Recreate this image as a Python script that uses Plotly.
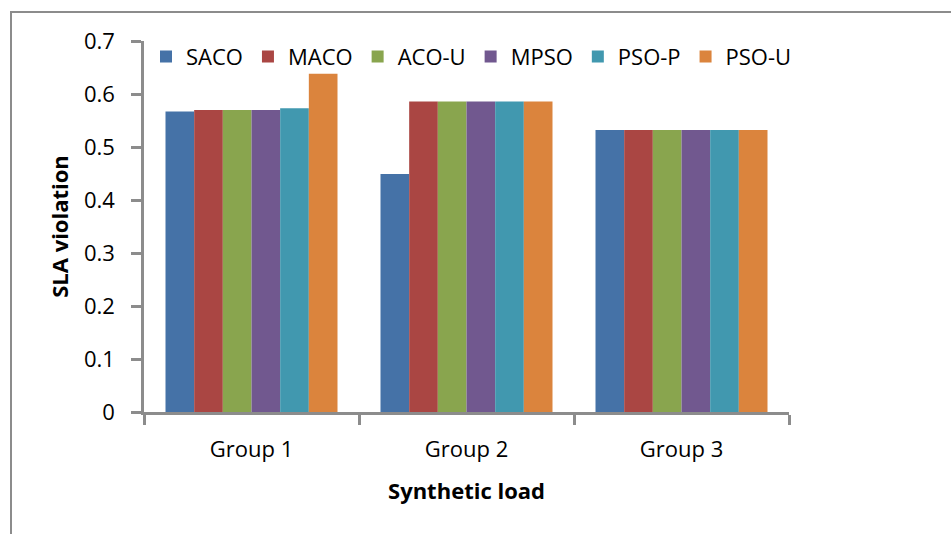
import plotly.graph_objects as go

categories = ["Group 1", "Group 2", "Group 3"]
series_names = ["SACO", "MACO", "ACO-U", "MPSO", "PSO-P", "PSO-U"]
saco = [0.567, 0.449, 0.532]
maco = [0.570, 0.586, 0.532]
aco_u = [0.570, 0.586, 0.532]
mpso = [0.570, 0.586, 0.532]
pso_p = [0.573, 0.586, 0.532]
pso_u = [0.638, 0.586, 0.532]
colors = ["#4572A7", "#AA4643", "#89A54E", "#71588F", "#4198AF", "#DB843D"]
y_ticks = [0, 0.1, 0.2, 0.3, 0.4, 0.5, 0.6, 0.7]
y_tick_labels = ["0", "0.1", "0.2", "0.3", "0.4", "0.5", "0.6", "0.7"]

all_values = [saco, maco, aco_u, mpso, pso_p, pso_u]

FONT = "Open Sans"
fig = go.Figure()
for name, vals, col in zip(series_names, all_values, colors):
    fig.add_trace(go.Bar(name=name, x=categories, y=vals, marker=dict(color=col, line=dict(width=0))))

L, R, T, B = 144, 20, 41, 122
W, H = 951, 534
pw, ph = W - L - R, H - T - B
plot_right = 789
dom_end = (plot_right - L) / pw

fig.update_layout(
    width=W, height=H,
    margin=dict(l=L, r=R, t=T, b=B, pad=0),
    barmode="group", bargap=0.2, bargroupgap=0,
    plot_bgcolor="white", paper_bgcolor="white",
    font=dict(family=FONT, size=22, color="black"),
    legend=dict(orientation="h", x=(146 - L) / pw, y=1.014, xanchor="left", yanchor="top",
                font=dict(family=FONT, size=22), itemwidth=30, bgcolor="rgba(0,0,0,0)",
                traceorder="normal", tracegroupgap=0),
    xaxis=dict(domain=[0, dom_end], showline=True, linecolor="#8c8c8c", linewidth=2.5, ticks="outside",
               tickson="boundaries", ticklen=10, tickwidth=2.5, tickcolor="#8c8c8c",
               ticklabelstandoff=16,
               showgrid=False, title=dict(text="<b>Synthetic load</b>", standoff=22,
                                          font=dict(family=FONT, size=22))),
    yaxis=dict(range=[0, 0.7], tickvals=y_ticks, ticktext=y_tick_labels, showline=True,
               linecolor="#8c8c8c", linewidth=2.5, ticks="outside", ticklen=10, tickwidth=2.5,
               tickcolor="#8c8c8c", showgrid=False, zeroline=False, ticklabelstandoff=12,
               title=dict(text="<b>SLA violation</b>", standoff=10,
                          font=dict(family=FONT, size=22))),
    shapes=[dict(type="rect", xref="paper", yref="paper",
                 x0=(11 - L) / pw, x1=(965 - L) / pw,
                 y0=-(560 - (H - B)) / ph, y1=((H - B) - 12) / ph,
                 line=dict(color="#8c8c8c", width=2), fillcolor="rgba(0,0,0,0)", layer="below")],
)

fig.write_html("out.html")
